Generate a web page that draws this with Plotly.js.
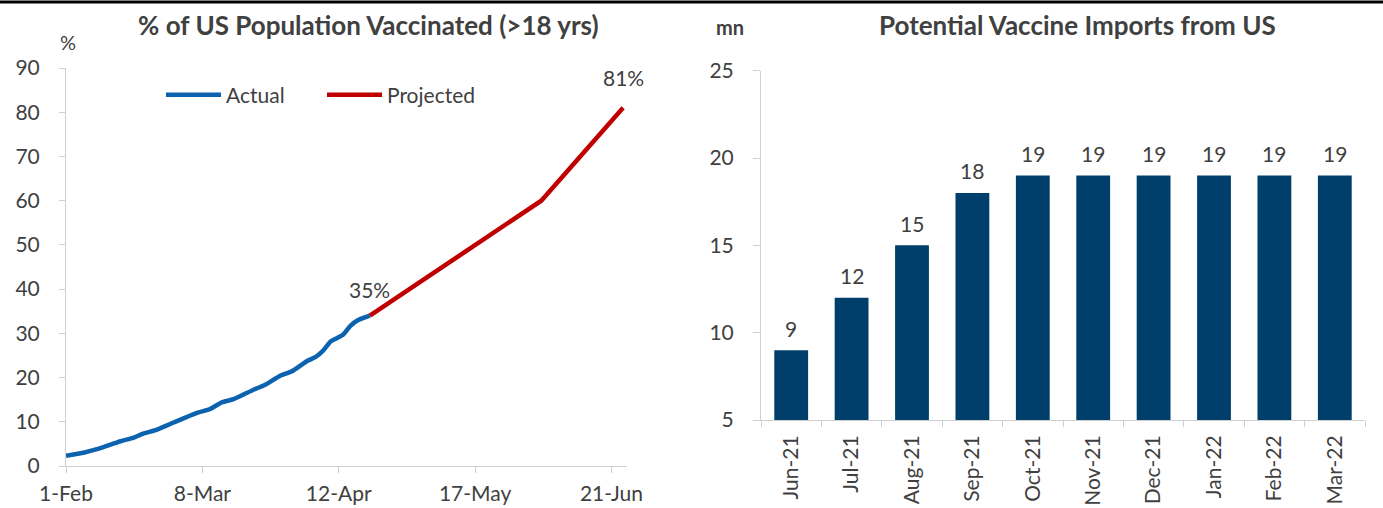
<!DOCTYPE html>
<html>
<head>
<meta charset="utf-8">
<script src="https://cdn.plot.ly/plotly-3.0.1.min.js"></script>
<style>
html,body{margin:0;padding:0;background:#fff;}
#chart{width:1383px;height:508px;}
</style>
</head>
<body>
<div id="chart"></div>
<script>
// ---- Left chart data: % of US population vaccinated (>18 yrs)
const actualDates = ['2021-02-01','2021-02-06','2021-02-08','2021-02-10','2021-02-14','2021-02-15','2021-02-18','2021-02-21','2021-02-24','2021-02-28','2021-03-03','2021-03-07','2021-03-10','2021-03-13','2021-03-16','2021-03-21','2021-03-24','2021-03-28','2021-03-31','2021-04-04','2021-04-06','2021-04-08','2021-04-10','2021-04-13','2021-04-15','2021-04-17','2021-04-20'];
const actualValues = [2.3,3.1,3.6,4.1,5.3,5.6,6.3,7.4,8.1,9.6,10.7,12.1,12.9,14.4,15.1,17.2,18.3,20.4,21.4,23.8,24.6,26.1,28.2,29.6,31.7,33.0,34.0];
const projectedDates = ['2021-04-20','2021-06-03','2021-06-24'];
const projectedValues = [34.0,60,81];
const leftTickDates = ['2021-02-01','2021-03-08','2021-04-12','2021-05-17','2021-06-21'];
const leftTickLabels = ['1-Feb','8-Mar','12-Apr','17-May','21-Jun'];
const actualEndLabel = '35%';
const projectedEndLabel = '81%';

// ---- Right chart data: potential vaccine imports from US (mn)
const months = ['Jun-21','Jul-21','Aug-21','Sep-21','Oct-21','Nov-21','Dec-21','Jan-22','Feb-22','Mar-22'];
const imports = [9,12,15,18,19,19,19,19,19,19];

const W = 1383, H = 508;
const fx = px => px / W;
const fy = py => (H - py) / H;
const FONT = 'Lato, "Open Sans", sans-serif';
const TXT = '#404040';
const AX = '#d0d0d0';

const traces = [
  {x: actualDates, y: actualValues, type: 'scatter', mode: 'lines', name: 'Actual',
   line: {color: '#0B63B0', width: 4.5, shape: 'spline', smoothing: 0.6}, xaxis: 'x', yaxis: 'y', cliponaxis: false},
  {x: projectedDates, y: projectedValues, type: 'scatter', mode: 'lines', name: 'Projected',
   line: {color: '#C00000', width: 4.5}, xaxis: 'x', yaxis: 'y', cliponaxis: false},
  {x: months, y: imports, type: 'bar', name: 'Imports', showlegend: false,
   marker: {color: '#003F6B'}, xaxis: 'x2', yaxis: 'y2'}
];

const annotations = [
  {text: '<b>% of US Population Vaccinated (>18 yrs)</b>', xref: 'paper', yref: 'paper', x: fx(369), y: fy(25),
   xanchor: 'center', yanchor: 'middle', showarrow: false, font: {family: FONT, size: 26, color: TXT}},
  {text: '<b>Potential Vaccine Imports from US</b>', xref: 'paper', yref: 'paper', x: fx(1077), y: fy(25),
   xanchor: 'center', yanchor: 'middle', showarrow: false, font: {family: FONT, size: 26, color: TXT}},
  {text: '%', xref: 'paper', yref: 'paper', x: fx(68), y: fy(42), xanchor: 'center', yanchor: 'middle',
   showarrow: false, font: {family: FONT, size: 20, color: TXT}},
  {text: '<b>mn</b>', xref: 'paper', yref: 'paper', x: fx(730), y: fy(27), xanchor: 'center', yanchor: 'middle',
   showarrow: false, font: {family: FONT, size: 20, color: TXT}},
  {text: actualEndLabel, xref: 'x', yref: 'y', x: actualDates[actualDates.length-1], y: actualValues[actualValues.length-1],
   xanchor: 'center', yanchor: 'middle', yshift: 26, showarrow: false, font: {family: FONT, size: 21, color: TXT}},
  {text: projectedEndLabel, xref: 'x', yref: 'y', x: projectedDates[projectedDates.length-1], y: projectedValues[projectedValues.length-1],
   xanchor: 'center', yanchor: 'middle', yshift: 30, showarrow: false, font: {family: FONT, size: 21, color: TXT}}
];
months.forEach((m, i) => {
  annotations.push({text: String(imports[i]), xref: 'x2', yref: 'y2', x: m, y: imports[i],
    xanchor: 'center', yanchor: 'middle', yshift: 22, showarrow: false, font: {family: FONT, size: 21, color: TXT}});
});

const layout = {
  width: W, height: H,
  margin: {l: 0, r: 0, t: 0, b: 0},
  paper_bgcolor: '#fff', plot_bgcolor: '#fff',
  font: {family: FONT, color: TXT, size: 21},
  showlegend: true,
  legend: {orientation: 'h', x: fx(161), y: fy(95), xanchor: 'left', yanchor: 'middle',
    font: {family: FONT, size: 21, color: TXT}, itemwidth: 55, entrywidth: 91, bgcolor: 'rgba(0,0,0,0)'},
  xaxis: {domain: [fx(66), fx(627)], type: 'date', range: ['2021-02-01', '2021-06-25'],
    tickvals: leftTickDates, ticktext: leftTickLabels, showgrid: false, zeroline: false,
    showline: true, linecolor: AX, linewidth: 1, ticks: 'outside', ticklen: 6, tickcolor: AX, ticklabelstandoff: 3,
    tickfont: {family: FONT, size: 21, color: TXT}, anchor: 'y'},
  yaxis: {domain: [fy(466), fy(68)], range: [0, 90], tickvals: [0,10,20,30,40,50,60,70,80,90],
    showgrid: false, zeroline: false, showline: true, linecolor: AX, linewidth: 1, ticklabelstandoff: 15,
    ticks: 'outside', ticklen: 6, tickcolor: AX, tickfont: {family: FONT, size: 21, color: TXT}, anchor: 'x'},
  xaxis2: {domain: [fx(761), fx(1365)], type: 'category', tickangle: -90, showgrid: false, zeroline: false,
    showline: true, linecolor: AX, linewidth: 1, ticks: 'outside', tickson: 'boundaries', ticklen: 6, tickcolor: AX,
    ticklabelstandoff: 6, tickfont: {family: FONT, size: 21, color: TXT}, anchor: 'y2'},
  yaxis2: {domain: [fy(420), fy(70.7)], range: [5, 25], tickvals: [5,10,15,20,25],
    showgrid: false, zeroline: false, showline: true, linecolor: AX, linewidth: 1, ticklabelstandoff: 15,
    ticks: 'outside', ticklen: 7, tickcolor: AX, tickfont: {family: FONT, size: 21, color: TXT}, anchor: 'x2'},
  bargap: 0.44,
  annotations: annotations,
  shapes: [
    {type: 'line', xref: 'paper', yref: 'paper', x0: 0, x1: 1, y0: fy(2), y1: fy(2), line: {color: '#000', width: 3}}
  ]
};

Plotly.newPlot('chart', traces, layout, {displayModeBar: false, staticPlot: true});
</script>
</body>
</html>
